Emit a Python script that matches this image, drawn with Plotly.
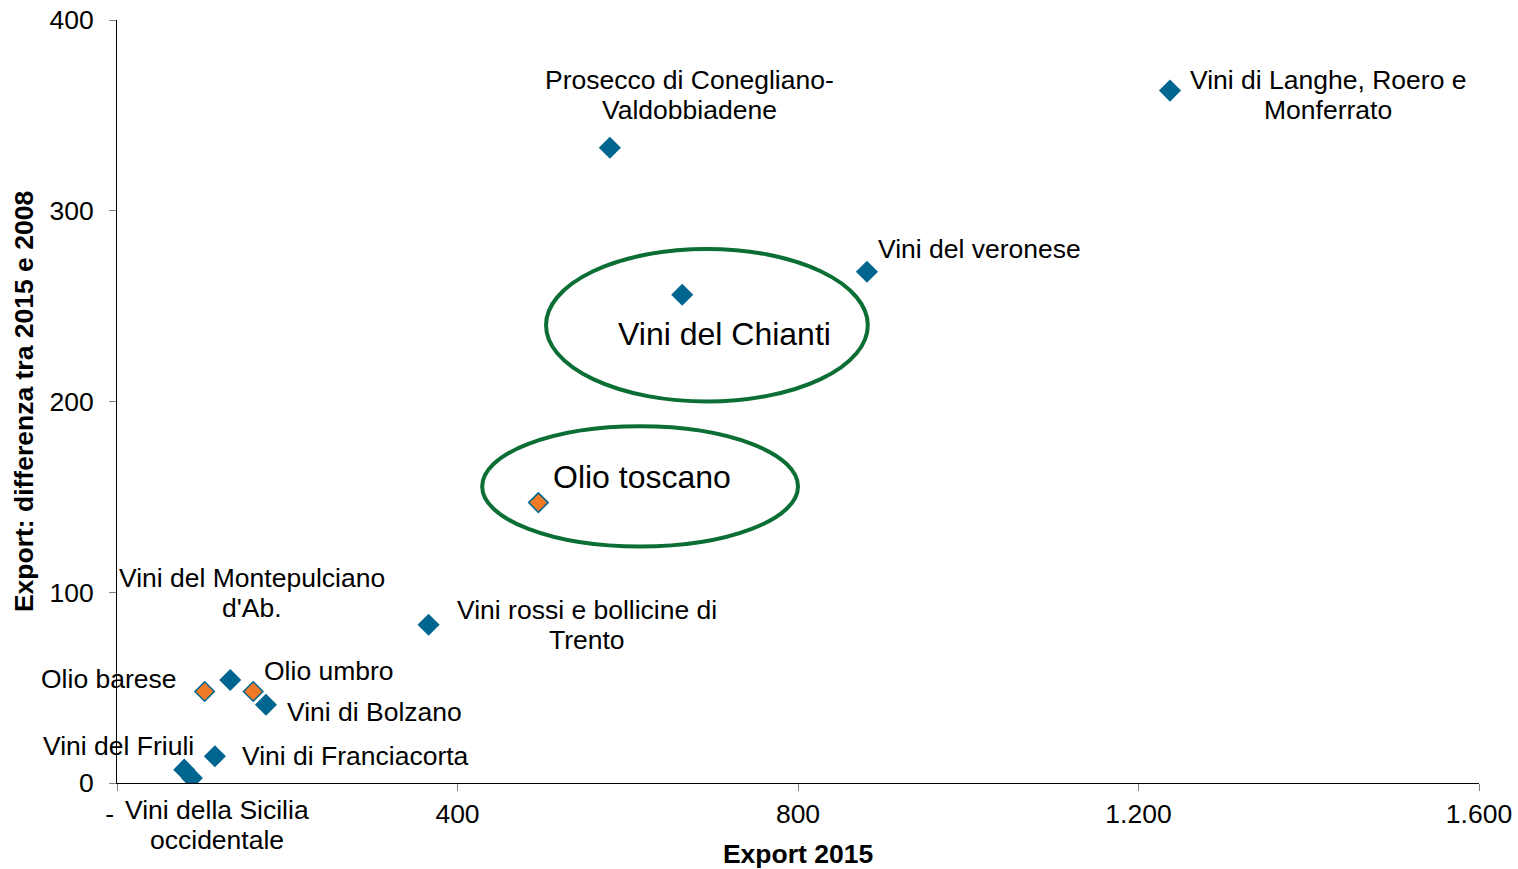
import plotly.graph_objects as go

# Wine districts (blue) and olive-oil districts (orange)
vini_nomi = ["Vini di Langhe, Roero e|Monferrato", "Prosecco di Conegliano-|Valdobbiadene",
             "Vini del veronese", "Vini del Chianti", "Vini rossi e bollicine di|Trento",
             "Vini del Montepulciano|d'Ab.", "Vini di Bolzano", "Vini di Franciacorta",
             "Vini del Friuli", "Vini della Sicilia|occidentale"]
vini_export_2015 = [1237, 579, 881, 664, 366, 133, 175, 115, 79, 88]
vini_diff = [363, 333, 268, 256, 83, 54, 41, 14, 7, 2.6]

olio_nomi = ["Olio toscano", "Olio barese", "Olio umbro"]
olio_export_2015 = [495, 103, 160]
olio_diff = [147, 48, 48]

x_tickvals = [0, 400, 800, 1200, 1600]
x_ticktext = ["-\u00a0\u00a0", "400", "800", "1.200", "1.600"]
y_tickvals = [0, 100, 200, 300, 400]

# label offsets in pixels (dx right, dy down) from the point to the label centre
label_offsets = {
    "Vini di Langhe, Roero e|Monferrato": (158, 4),
    "Prosecco di Conegliano-|Valdobbiadene": (80, -53),
    "Vini del veronese": (113, -23),
    "Vini del Chianti": (42, 39),
    "Vini rossi e bollicine di|Trento": (158, 0),
    "Vini del Montepulciano|d'Ab.": (22, -87),
    "Vini di Bolzano": (109, 7),
    "Vini di Franciacorta": (141, 0),
    "Vini del Friuli": (-66, -24),
    "Vini della Sicilia|occidentale": (25, 47),
    "Olio toscano": (104, -26),
    "Olio barese": (-96, -12),
    "Olio umbro": (76, -20),
}
big_labels = {"Vini del Chianti", "Olio toscano"}
LINE_H = 30

BLUE = "#00668F"
ORANGE = "#F07A28"
GREEN = "#0B6E35"
FONT = "Liberation Sans, Arial, sans-serif"
FS = 26.5

fig = go.Figure()
fig.add_trace(go.Scatter(
    x=vini_export_2015, y=vini_diff, mode="markers",
    marker=dict(symbol="diamond", size=17, color=BLUE),
    showlegend=False, hoverinfo="skip"))
fig.add_trace(go.Scatter(
    x=olio_export_2015, y=olio_diff, mode="markers",
    marker=dict(symbol="diamond", size=15, color=ORANGE, line=dict(color=BLUE, width=1.5)),
    showlegend=False, hoverinfo="skip"))

annotations = []
for nomi, xs, ys in [(vini_nomi, vini_export_2015, vini_diff), (olio_nomi, olio_export_2015, olio_diff)]:
    for n, x, y in zip(nomi, xs, ys):
        dx, dy = label_offsets[n]
        lines = n.split("|")
        for i, line in enumerate(lines):
            ly = dy + (i - (len(lines) - 1) / 2) * LINE_H
            annotations.append(dict(
                x=x, y=y, text=line, showarrow=False, xanchor="center", yanchor="middle",
                xshift=dx, yshift=-ly, align="center",
                font=dict(size=32 if n in big_labels else FS, color="black", family=FONT)))

# green ellipses highlighting the Tuscan products
for x0, x1, y0, y1 in [(504, 882, 200, 280), (429, 800, 124, 187)]:
    fig.add_shape(type="circle", xref="x", yref="y", x0=x0, x1=x1, y0=y0, y1=y1,
                  line=dict(color=GREEN, width=4))

fig.update_layout(
    width=1518, height=869,
    margin=dict(l=117, r=39, t=20, b=86),
    plot_bgcolor="white", paper_bgcolor="white",
    font=dict(family=FONT, size=FS, color="black"),
    annotations=annotations,
    xaxis=dict(
        range=[0, 1600], tickmode="array", tickvals=x_tickvals, ticktext=x_ticktext,
        showgrid=False, zeroline=False, showline=True, linecolor="black", linewidth=1,
        ticks="outside", ticklen=7, tickcolor="#808080", automargin=False,
        ticklabeloverflow="allow",
        title=dict(text="<b>Export 2015</b>", font=dict(size=FS), standoff=16),
    ),
    yaxis=dict(
        range=[0, 400], tickmode="array", tickvals=y_tickvals,
        showgrid=False, zeroline=False, showline=True, linecolor="black", linewidth=1,
        ticks="outside", ticklen=7, tickcolor="#808080", automargin=False,
        ticklabelstandoff=10, ticklabeloverflow="allow",
        title=dict(text="<b>Export: differenza tra 2015 e 2008</b>", font=dict(size=FS), standoff=8),
    ),
)

# drop the default page margin so the figure fills the window exactly
fig.write_html("out.html", config={"displayModeBar": False},
               post_script="document.body.style.margin='0px';")
